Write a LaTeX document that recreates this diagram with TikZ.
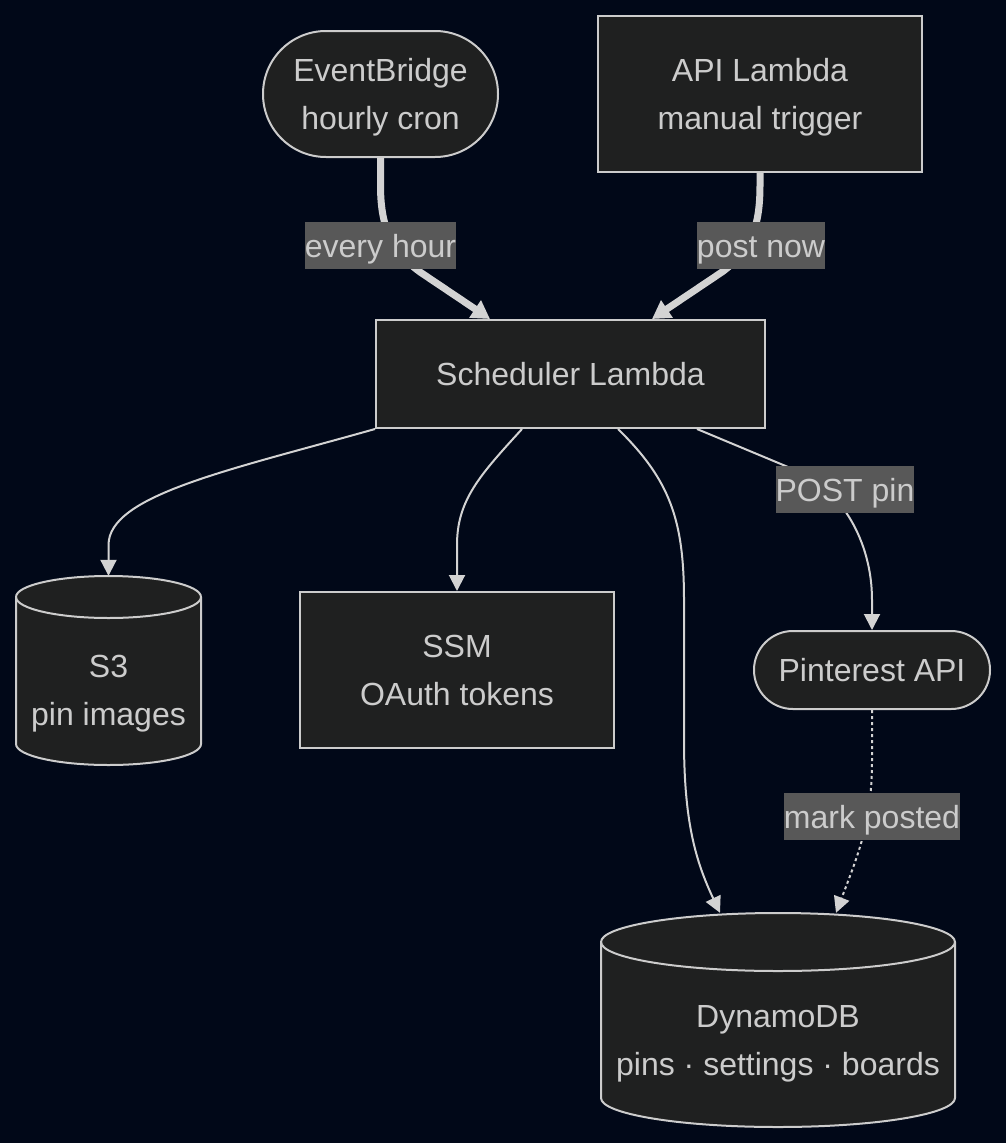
\documentclass[tikz,border=0pt]{standalone}
\usepackage{fontspec}
\setmainfont{Liberation Sans}
\usetikzlibrary{arrows.meta,calc}
\definecolor{bgc}{RGB}{1,8,24}
\definecolor{nodefill}{RGB}{31,32,32}
\definecolor{nodestroke}{RGB}{204,204,204}
\definecolor{edgec}{RGB}{211,211,211}
\definecolor{txtc}{RGB}{204,204,204}
\definecolor{lblbg}{RGB}{88,88,88}
\begin{document}
\begin{tikzpicture}[x=1pt,y=-1pt,
  box/.style={draw=nodestroke, fill=nodefill, line width=2pt, inner sep=0pt},
  txt/.style={text=txtc, font=\fontsize{32}{38}\selectfont, anchor=base, inner sep=0pt},
  ntxt/.style={box, text=txtc, font=\fontsize{32}{38}\selectfont, text height=27pt, text depth=4pt},
  lbl/.style={fill=lblbg, text=txtc, font=\fontsize{32}{38}\selectfont, inner xsep=0pt, inner ysep=0pt, minimum height=47pt, text height=27pt, text depth=4pt},
  thinedge/.style={draw=edgec, line width=2pt, -{Triangle[length=16pt 0 0, width=16pt 0 0]}},
  thickedge/.style={draw=edgec, line width=7pt, -{Triangle[length=18pt 0 0, width=20pt 0 0]}},
  dotedge/.style={thinedge, dash pattern=on 3pt off 3pt}
]
\fill[bgc] (0,0) rectangle (1006,1143);
\useasboundingbox (0,0) rectangle (1006,1143);

% nodes
\node[box, minimum width=235pt, minimum height=126pt, rounded corners=62.9pt] (eb) at (380.5,94) {};
\node[txt] (eb1) at (380.5,81.5) {EventBridge};
\node[txt] (eb2) at (380.5,129.5) {hourly cron};

\node[box, minimum width=324pt, minimum height=156pt] (api) at (760,94) {};
\node[txt] (api1) at (760,81.5) {API Lambda};
\node[txt] (api2) at (760,129.5) {manual trigger};

\node[ntxt, minimum width=389pt, minimum height=108pt] (sch) at (570.5,374) {Scheduler Lambda};

\node[box, minimum width=314pt, minimum height=156pt] (ssm) at (457,670) {};
\node[txt] (ssm1) at (457,657.5) {SSM};
\node[txt] (ssm2) at (457,705.5) {OAuth tokens};

\node[ntxt, minimum width=236pt, minimum height=78pt, rounded corners=38.9pt] (pin) at (872,670) {Pinterest API};

% S3 cylinder
\filldraw[box] (16,597) -- (16,744) arc[start angle=180, end angle=0, x radius=92.5, y radius=21] -- (201,597) arc[start angle=0, end angle=-180, x radius=92.5, y radius=21] -- cycle;
\draw[draw=nodestroke, line width=2pt] (16,597) arc[start angle=180, end angle=0, x radius=92.5, y radius=21];
\node[inner sep=0pt, minimum width=185pt, minimum height=189pt] (s3) at (108.5,670.5) {};
\node[txt] (s31) at (108.5,677) {S3};
\node[txt] (s32) at (108.5,725) {pin images};

% DynamoDB cylinder
\filldraw[box] (601,942) -- (601,1098) arc[start angle=180, end angle=0, x radius=177, y radius=29] -- (955,942) arc[start angle=0, end angle=-180, x radius=177, y radius=29] -- cycle;
\draw[draw=nodestroke, line width=2pt] (601,942) arc[start angle=180, end angle=0, x radius=177, y radius=29];
\node[inner sep=0pt, minimum width=354pt, minimum height=214pt] (ddb) at (778,1020) {};
\node[txt] (ddb1) at (778,1027) {DynamoDB};
\node[txt] (ddb2) at (778,1075) {pins · settings · boards};

% edges
\draw[thickedge] (eb.south) -- (380.5,185) .. controls (380.5,225) and (390,250) .. (420,272) -- ([xshift=-80.5pt]sch.north);
\draw[thickedge] (api.south) -- (760,185) .. controls (760,225) and (752,250) .. (722,272) -- ([xshift=81.5pt]sch.north);
\draw[thinedge] (sch.south west) .. controls (230,470) and (108.5,495) .. (108.5,545) -- (s3.north);
\draw[thinedge] ([xshift=-48.5pt]sch.south) .. controls (480,475) and (457,500) .. (457,545) -- (ssm.north);
\draw[thinedge] ([xshift=47.5pt]sch.south) .. controls (670,480) and (684,520) .. (684,600) -- (684,740) .. controls (684,820) and (695,860) .. ([xshift=-58pt]ddb.north);
\draw[thinedge] ([xshift=126.5pt]sch.south) -- (800,472) .. controls (840,490) and (872,540) .. (872,600) -- (pin.north);
\draw[dotedge] (pin.south) -- (872,760) .. controls (872,820) and (860,850) .. ([xshift=58pt]ddb.north);

% labels
\node[lbl] (l1) at (380.5,245.5) {every hour};
\node[lbl] (l2) at (761,245.5) {post now};
\node[lbl] (l3) at (845,489.5) {POST pin};
\node[lbl] (l4) at (872,816.5) {mark posted};
\end{tikzpicture}
\end{document}
